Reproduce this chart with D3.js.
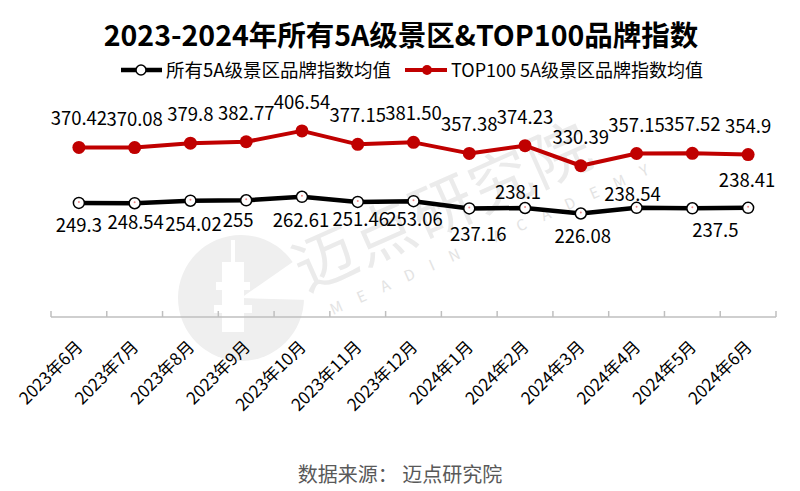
<!DOCTYPE html>
<html>
<head>
<meta charset="utf-8">
<script src="https://cdn.jsdelivr.net/npm/d3@7/dist/d3.min.js"></script>
<style>
  html, body { margin: 0; padding: 0; background: #fff; }
  svg { display: block; }
  text { font-family: "Microsoft YaHei", "Noto Sans CJK SC", "Noto Sans", sans-serif; }
</style>
</head>
<body>
<svg id="chart" width="800" height="491"></svg>
<script>
// ---- data ----
const categories = ["2023年6月","2023年7月","2023年8月","2023年9月","2023年10月","2023年11月","2023年12月","2024年1月","2024年2月","2024年3月","2024年4月","2024年5月","2024年6月"];
const allAvg = [249.3, 248.54, 254.02, 255, 262.61, 251.46, 253.06, 237.16, 238.1, 226.08, 238.54, 237.5, 238.41];
const allAvgLabels = ["249.3","248.54","254.02","255","262.61","251.46","253.06","237.16","238.1","226.08","238.54","237.5","238.41"];
const top100Avg = [370.42, 370.08, 379.8, 382.77, 406.54, 377.15, 381.50, 357.38, 374.23, 330.39, 357.15, 357.52, 354.9];
const top100Labels = ["370.42","370.08","379.8","382.77","406.54","377.15","381.50","357.38","374.23","330.39","357.15","357.52","354.9"];
const seriesNames = ["所有5A级景区品牌指数均值", "TOP100 5A级景区品牌指数均值"];
const titleText = "2023-2024年所有5A级景区&TOP100品牌指数";
const sourceText = "数据来源： 迈点研究院";

// label placement (manual nudges as in the original)
const allLabelOffsets = [[0,29],[1,26],[3,30],[-8,27],[-1,30],[3,24],[1,25],[9,33],[-7,-9],[2,29],[-4,-7],[23,29],[-1,-21]];
const topLabelOffsets = categories.map(() => [0,-22]);

const RED = "#c00000";
const svg = d3.select("#chart");
svg.append("rect").attr("width", 800).attr("height", 491).attr("fill", "#fff");

const x = d3.scaleBand().domain(categories).range([51, 776]).padding(0);
const y = d3.scaleLinear().domain([0, 450]).range([317, 111]);
const cx = c => x(c) + x.bandwidth() / 2;

// ---- watermark ----
const wm = svg.append("g").attr("class", "watermark");
wm.append("circle").attr("cx", 241).attr("cy", 298).attr("r", 63).attr("fill", "#efefef");
const tower = wm.append("g").attr("fill", "#fff");
tower.append("rect").attr("x", 222).attr("y", 262).attr("width", 22).attr("height", 70);
tower.append("rect").attr("x", 216).attr("y", 282).attr("width", 34).attr("height", 8);
tower.append("rect").attr("x", 214).attr("y", 305).attr("width", 38).attr("height", 8);
tower.append("rect").attr("x", 231).attr("y", 240).attr("width", 4).attr("height", 24);
wm.append("path").attr("d", "M241,298 L310,250 L310,300 Z").attr("fill", "#fff");
wm.append("text")
  .attr("transform", "translate(306,292) rotate(-24)")
  .attr("font-size", 62).attr("fill", "#ebebeb").attr("letter-spacing", 2)
  .text("迈点研究院");
wm.append("text")
  .attr("transform", "translate(333,315) rotate(-24)")
  .attr("font-size", 15).attr("fill", "#e3e3e3").attr("letter-spacing", 17)
  .text("MEADIN ACADEMY");

// ---- axis ----
const axisY = y(0);
svg.append("line").attr("x1", x.range()[0]).attr("x2", x.range()[1])
  .attr("y1", axisY).attr("y2", axisY).attr("stroke", "#bfbfbf").attr("stroke-width", 1.5);
const boundaries = categories.map(c => x(c)).concat([x.range()[1]]);
svg.append("g").selectAll("line").data(boundaries).join("line")
  .attr("x1", d => d).attr("x2", d => d).attr("y1", axisY).attr("y2", axisY - 6)
  .attr("stroke", "#bfbfbf").attr("stroke-width", 1.5);

svg.append("g").selectAll("text").data(categories).join("text")
  .attr("transform", d => `translate(${cx(d) + 5},${axisY + 31}) rotate(-45)`)
  .attr("text-anchor", "end")
  .attr("font-size", 17).attr("fill", "#000")
  .text(d => d);

// ---- lines ----
const line = d3.line().x((d, i) => cx(categories[i])).y(d => y(d));
svg.append("path").datum(top100Avg).attr("d", line)
  .attr("fill", "none").attr("stroke", RED).attr("stroke-width", 4).attr("stroke-linejoin", "round");
svg.append("path").datum(allAvg).attr("d", line)
  .attr("fill", "none").attr("stroke", "#000").attr("stroke-width", 4.5).attr("stroke-linejoin", "round");

svg.append("g").selectAll("circle").data(top100Avg).join("circle")
  .attr("cx", (d, i) => cx(categories[i])).attr("cy", d => y(d)).attr("r", 6.5).attr("fill", RED);

const mk = svg.append("g").selectAll("g").data(allAvg).join("g")
  .attr("transform", (d, i) => `translate(${cx(categories[i])},${y(d)})`);
mk.append("circle").attr("r", 5.5).attr("fill", "#fff").attr("stroke", "#000").attr("stroke-width", 1.5);
mk.append("circle").attr("r", 1).attr("cy", -1).attr("fill", "#e88");

// ---- data labels ----
svg.append("g").selectAll("text").data(top100Avg).join("text")
  .attr("x", (d, i) => cx(categories[i]) + topLabelOffsets[i][0])
  .attr("y", (d, i) => y(d) + topLabelOffsets[i][1])
  .attr("text-anchor", "middle").attr("font-size", 18.5).attr("fill", "#000")
  .text((d, i) => top100Labels[i]);
svg.append("g").selectAll("text").data(allAvg).join("text")
  .attr("x", (d, i) => cx(categories[i]) + allLabelOffsets[i][0])
  .attr("y", (d, i) => y(d) + allLabelOffsets[i][1])
  .attr("text-anchor", "middle").attr("font-size", 18.5).attr("fill", "#000")
  .text((d, i) => allAvgLabels[i]);

// ---- title ----
svg.append("text").attr("x", 401).attr("y", 46).attr("text-anchor", "middle")
  .attr("font-size", 28.5).attr("font-weight", "bold").attr("fill", "#000")
  .text(titleText);

// ---- legend ----
const lg = svg.append("g");
lg.append("line").attr("x1", 121).attr("x2", 162).attr("y1", 70).attr("y2", 70).attr("stroke", "#000").attr("stroke-width", 4.5);
lg.append("circle").attr("cx", 141).attr("cy", 70).attr("r", 5).attr("fill", "#fff").attr("stroke", "#000").attr("stroke-width", 1.5);
lg.append("text").attr("x", 166).attr("y", 77).attr("font-size", 18.5).attr("fill", "#000").text(seriesNames[0]);
lg.append("line").attr("x1", 405).attr("x2", 447).attr("y1", 70).attr("y2", 70).attr("stroke", RED).attr("stroke-width", 4);
lg.append("circle").attr("cx", 427).attr("cy", 70).attr("r", 5).attr("fill", RED);
lg.append("text").attr("x", 451).attr("y", 77).attr("font-size", 18).attr("fill", "#000").text(seriesNames[1]);

// ---- source ----
svg.append("text").attr("x", 400).attr("y", 482).attr("text-anchor", "middle")
  .attr("font-size", 20).attr("fill", "#595959").text(sourceText);
</script>
</body>
</html>
